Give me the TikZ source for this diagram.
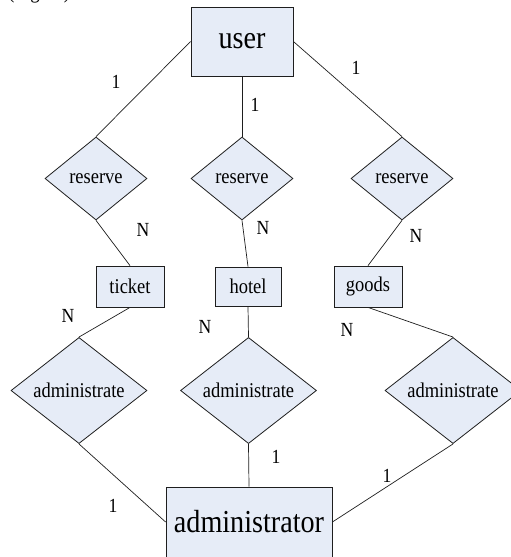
\documentclass[tikz,border=0pt]{standalone}
\usepackage{fontspec}
\setmainfont{Liberation Serif}[FakeStretch=0.88]
\usetikzlibrary{shapes.geometric}
\definecolor{erfill}{RGB}{230,236,247}
\definecolor{erline}{RGB}{30,30,30}
\tikzset{
  ent/.style={draw=erline,fill=erfill,line width=0.8pt,inner sep=0pt,font=\fontsize{21}{25}\selectfont},
  bigent/.style={ent,font=\fontsize{32}{38}\selectfont},
  rel/.style={draw=erline,fill=erfill,line width=0.8pt,diamond,inner sep=0pt,font=\fontsize{21}{25}\selectfont},
  lab/.style={inner sep=0pt,font=\fontsize{20}{24}\selectfont},
  conn/.style={draw=erline,line width=0.7pt}
}
\begin{document}
\begin{tikzpicture}[x=1pt,y=-1pt]
\useasboundingbox (0,0) rectangle (511,557);
\begin{scope}
\clip (0,0) rectangle (511,557);
% clipped caption fragment at the top edge (only its lowest parts show)
\node[inner sep=0pt,anchor=base west,font=\fontsize{21.5}{25}\selectfont] (cap) at (8,-2) {(Figure)};
% entities
\node[bigent,minimum width=102pt,minimum height=69pt] (user) at (242,41.5) {user};
\node[ent,minimum width=68pt,minimum height=41pt] (ticket) at (130,286.5) {ticket};
\node[ent,minimum width=66pt,minimum height=39pt] (hotel) at (248,286.5) {hotel};
\node[ent,minimum width=68pt,minimum height=41pt] (goods) at (368,286.5) {goods};
\node[bigent,minimum width=166pt,minimum height=70pt] (adm) at (249,522) {administrator};
% relationships
\node[rel,minimum width=102pt,minimum height=83pt] (r1) at (96,178.5) {reserve};
\node[rel,minimum width=102pt,minimum height=83pt] (r2) at (242,178.5) {reserve};
\node[rel,minimum width=102pt,minimum height=83pt] (r3) at (402,178.5) {reserve};
\node[rel,minimum width=136pt,minimum height=85pt] (a1) at (79,390.5) {administrate};
\node[rel,minimum width=136pt,minimum height=85pt] (a2) at (248.5,390.5) {administrate};
\node[rel,minimum width=136pt,minimum height=85pt] (a3) at (453,390.5) {administrate};
% connectors
\draw[conn] (user.west) -- (r1.north);
\draw[conn] (user.south) -- (r2.north);
\draw[conn] (user.east) -- (r3.north);
\draw[conn] (r1.south) -- (ticket.north);
\draw[conn] (r2.south) -- (hotel.north);
\draw[conn] (r3.south) -- (goods.north);
\draw[conn] (ticket.south) -- (a1.north);
\draw[conn] (hotel.south) -- (a2.north);
\draw[conn] (goods.south) -- (a3.north);
\draw[conn] (a1.south) -- (adm.west);
\draw[conn] (a2.south) -- (adm.north);
\draw[conn] (a3.south) -- (adm.east);
% cardinalities
\node[lab] (c1) at (116,82) {1};
\node[lab] (c2) at (255,105) {1};
\node[lab] (c3) at (356,68) {1};
\node[lab] (c4) at (143,230) {N};
\node[lab] (c5) at (263,228) {N};
\node[lab] (c6) at (416,236) {N};
\node[lab] (c7) at (68,316) {N};
\node[lab] (c8) at (205,327) {N};
\node[lab] (c9) at (347,330) {N};
\node[lab] (c10) at (113,506) {1};
\node[lab] (c11) at (276,457) {1};
\node[lab] (c12) at (387,476) {1};
\end{scope}
\end{tikzpicture}
\end{document}
